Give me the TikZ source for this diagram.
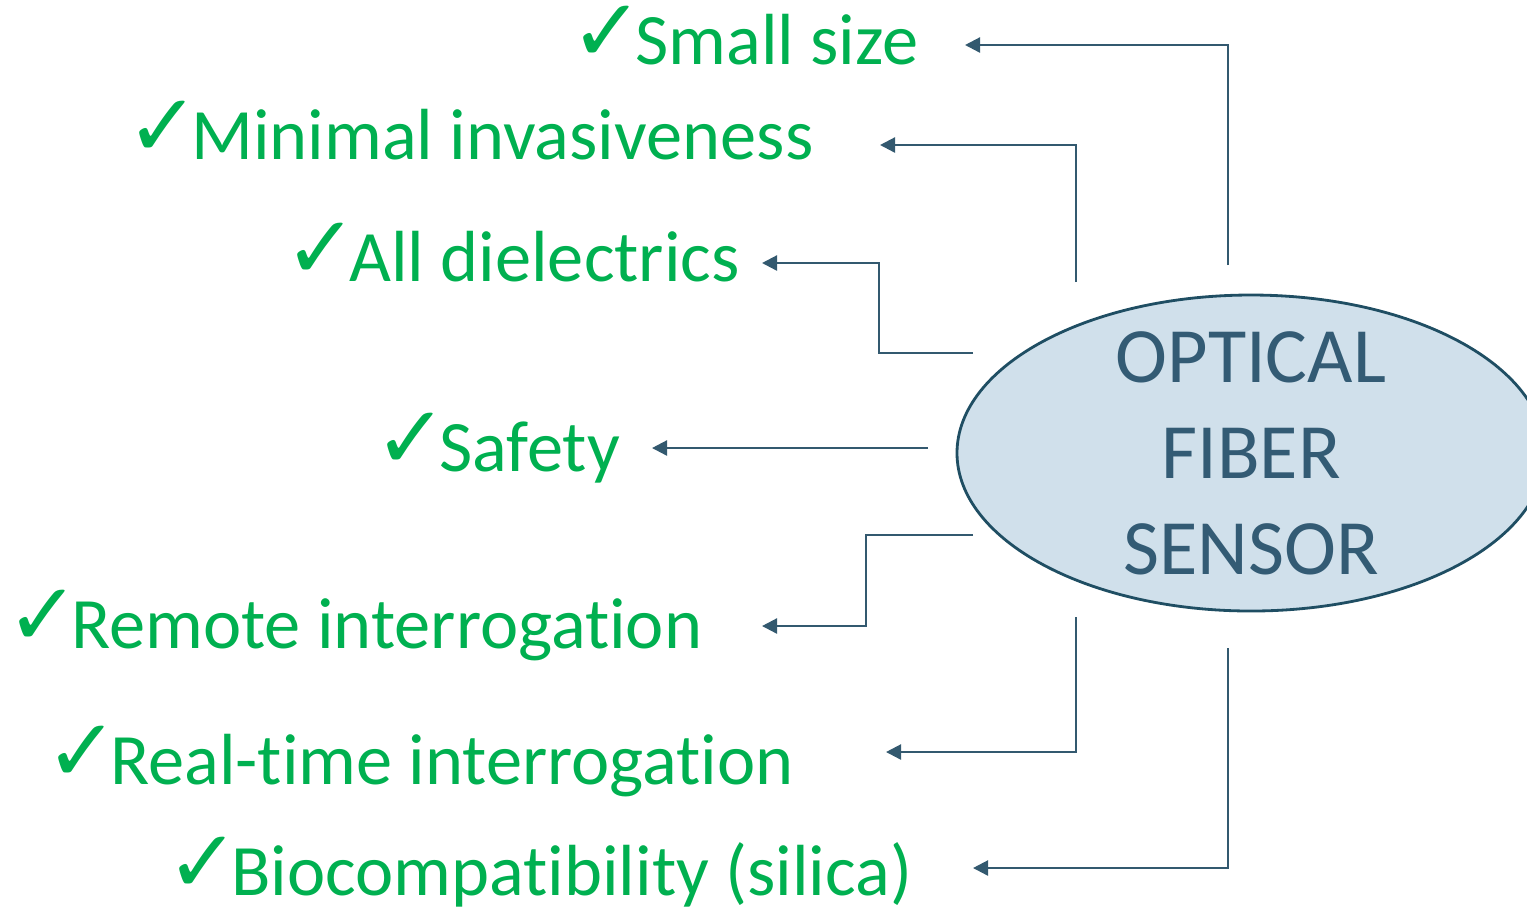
\documentclass[tikz,border=0pt]{standalone}
\usepackage{fontspec}
\setmainfont{Carlito}[Ligatures=NoCommon]
\newfontfamily\symfont{DejaVu Sans}
\usetikzlibrary{arrows.meta, shapes.geometric}

\definecolor{okgreen}{HTML}{00B050}
\definecolor{linkblue}{HTML}{33596F}
\definecolor{sensorfill}{HTML}{D0E0EB}
\definecolor{sensordraw}{HTML}{1F4E63}
\definecolor{sensortext}{HTML}{335B74}

\newcommand{\okmark}{\raisebox{0.03cm}{\symfont\fontsize{25pt}{25pt}\selectfont ✓}\hspace{-0.09cm}}

\begin{document}
\begin{tikzpicture}[
    % Sensor ellipse style
    sensor/.style={
        ellipse,
        draw=sensordraw,
        fill=sensorfill,
        line width=0.8pt,
        minimum width=5.88cm,
        minimum height=3.16cm,
        inner xsep=0pt,
        inner ysep=-0.4cm,
        align=center,
        text=sensortext,
        font=\fontsize{22.3pt}{27.3pt}\selectfont
    },
    % Advantage label style
    item/.style={
        anchor=base west,
        inner sep=0pt,
        text=okgreen,
        font=\fontsize{20.6pt}{24pt}\selectfont
    },
    % Connector style
    link/.style={
        -{Triangle[length=0.15cm, width=0.15cm]},
        line width=0.65pt,
        linkblue
    }
]
\useasboundingbox (0,0) rectangle (15.27,-9.08);

% === Sensor ===
\node[sensor] (sensor) at (12.51,-4.53) {OPTICAL\\FIBER\\SENSOR};

% === Advantages ===
\node[item] (small) at (5.70,-0.64) {\okmark Small size};
\node[item] (minimal) at (1.26,-1.59) {\okmark Minimal invasiveness};
\node[item] (alldiel) at (2.84,-2.81) {\okmark All dielectrics};
\node[item] (safety) at (3.74,-4.71) {\okmark Safety};
\node[item] (remote) at (0.06,-6.48) {\okmark Remote interrogation};
\node[item] (realtime) at (0.45,-7.84) {\okmark Real-time interrogation};
\node[item] (biocomp) at (1.66,-8.95) {\okmark Biocompatibility (silica)};

% === Connector ends ===
\coordinate (s1) at (12.28,-2.65);
\coordinate (t1) at (9.65,-0.45);
\coordinate (s2) at (10.76,-2.82);
\coordinate (t2) at (8.80,-1.45);
\coordinate (s3) at (9.73,-3.53);
\coordinate (t3) at (7.62,-2.63);
\coordinate (s4) at (9.28,-4.48);
\coordinate (t4) at (6.52,-4.48);
\coordinate (s5) at (9.73,-5.35);
\coordinate (t5) at (7.62,-6.26);
\coordinate (s6) at (10.76,-6.17);
\coordinate (t6) at (8.86,-7.52);
\coordinate (s7) at (12.28,-6.48);
\coordinate (t7) at (9.73,-8.68);

% === Connectors ===
\draw[link] (s1) |- (t1);
\draw[link] (s2) |- (t2);
\draw[link] (s3) -- ++(-0.94,0) |- (t3);
\draw[link] (s4) -- (t4);
\draw[link] (s5) -- ++(-1.07,0) |- (t5);
\draw[link] (s6) |- (t6);
\draw[link] (s7) |- (t7);

\end{tikzpicture}
\end{document}
